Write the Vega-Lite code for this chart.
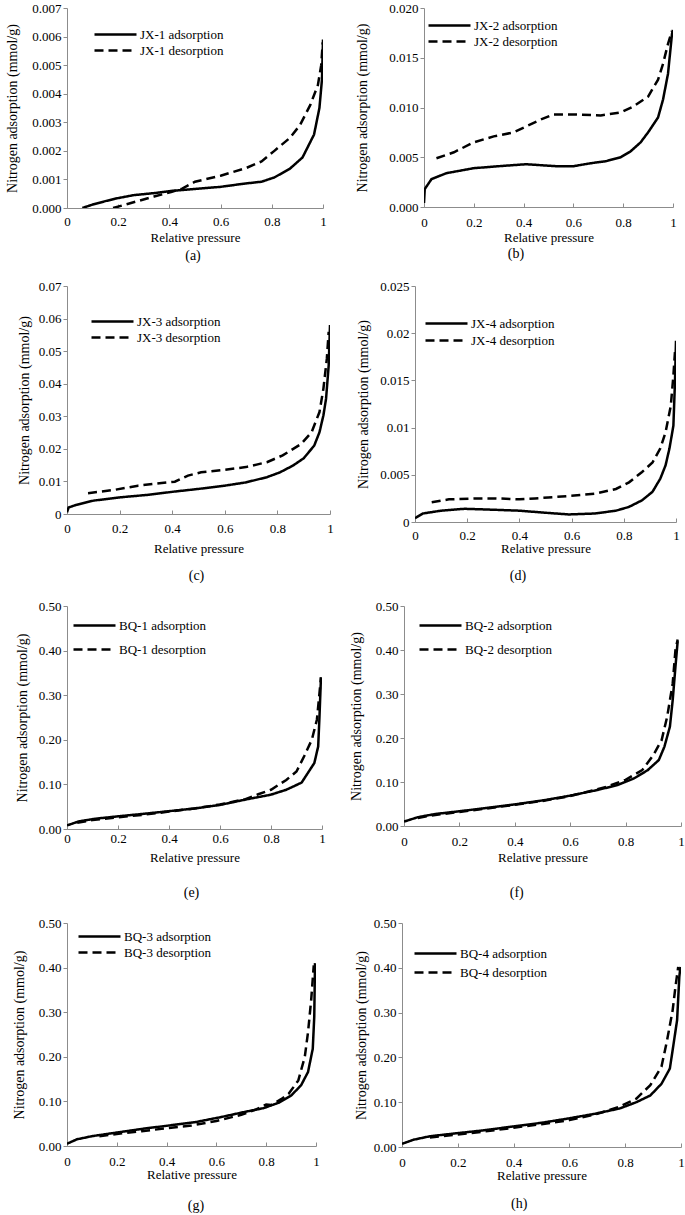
{
"$schema": "https://vega.github.io/schema/vega-lite/v6.json",
"padding": {"left": 5, "top": 2, "right": 0, "bottom": 0},
"config": {
  "font": "Liberation Serif",
  "view": {"stroke": null},
  "style": {"guide-label": {"font": "Liberation Serif", "fontSize": 13, "fill": "black"}, "guide-title": {"font": "Liberation Serif", "fontSize": 13, "fontWeight": "normal", "fill": "black"}},
  "legend": {"labelFont": "Liberation Serif", "labelFontSize": 13, "labelColor": "black", "symbolType": "M-1,0H5", "symbolStrokeWidth": 2.5, "symbolStrokeColor": "black", "symbolSize": 196, "orient": "none", "padding": 0, "labelOffset": 30, "rowPadding": 2},
  "title": {"font": "Liberation Serif", "fontSize": 14, "fontWeight": "normal", "orient": "bottom", "color": "black"},
  "line": {"strokeWidth": 2.5, "color": "black"}
},
"resolve": {"scale": {"strokeDash": "independent"}, "legend": {"strokeDash": "independent"}},
"spacing": 17,
"vconcat": [
 {"hconcat": [
  {"width": 256, "height": 200, "title": {"text": "(a)", "offset": 4.5, "frame": "group", "dx": -2},
   "data": {"name": "d"}, "transform": [{"filter": "datum.g == 'a'"}],
   "mark": {"type": "line", "clip": true},
   "encoding": {
    "x": {"field": "p", "type": "quantitative", "scale": {"domain": [0, 1], "nice": false}, "axis": {"title": "Relative pressure", "values": [0, 0.2, 0.4, 0.6, 0.8, 1], "format": "~g", "labelFont": "Liberation Serif", "labelFontSize": 13, "titleFont": "Liberation Serif", "titleFontSize": 13, "titleFontWeight": "normal", "labelColor": "black", "titleColor": "black", "domainColor": "#8c8c8c", "tickColor": "#8c8c8c", "tickSize": -4, "labelPadding": 11.5, "titlePadding": 3, "labelFlush": false, "grid": false}},
    "y": {"field": "n", "type": "quantitative", "scale": {"domain": [0, 0.007], "nice": false, "zero": false}, "axis": {"title": "Nitrogen adsorption (mmol/g)", "values": [0, 0.001, 0.002, 0.003, 0.004, 0.005, 0.006, 0.007], "format": ".3f", "labelFont": "Liberation Serif", "labelFontSize": 13, "titleFont": "Liberation Serif", "titleFontSize": 14, "titleFontWeight": "normal", "labelColor": "black", "titleColor": "black", "domainColor": "#8c8c8c", "tickColor": "#8c8c8c", "tickSize": 4, "labelPadding": 2, "titlePadding": 12, "grid": false}},
    "strokeDash": {"field": "s", "type": "nominal", "scale": {"domain": ["JX-1 adsorption", "JX-1 desorption"], "range": [[1, 0], [9, 5]]}, "legend": {"title": null, "legendX": 26, "legendY": 18, "rowPadding": -1}},
    "order": {"field": "p"}}},
  {"width": 249, "height": 199, "title": {"text": "(b)", "offset": 2.5, "frame": "bounds"},
   "data": {"name": "d"}, "transform": [{"filter": "datum.g == 'b'"}],
   "mark": {"type": "line", "clip": true},
   "encoding": {
    "x": {"field": "p", "type": "quantitative", "scale": {"domain": [0, 1], "nice": false}, "axis": {"title": "Relative pressure", "values": [0, 0.2, 0.4, 0.6, 0.8, 1], "format": "~g", "labelFont": "Liberation Serif", "labelFontSize": 13, "titleFont": "Liberation Serif", "titleFontSize": 13, "titleFontWeight": "normal", "labelColor": "black", "titleColor": "black", "domainColor": "#8c8c8c", "tickColor": "#8c8c8c", "tickSize": -4, "labelPadding": 13.5, "titlePadding": 2, "labelFlush": false, "grid": false}},
    "y": {"field": "n", "type": "quantitative", "scale": {"domain": [0, 0.02], "nice": false, "zero": false}, "axis": {"title": "Nitrogen adsorption (mmol/g)", "values": [0, 0.005, 0.01, 0.015, 0.02], "format": ".3f", "labelFont": "Liberation Serif", "labelFontSize": 13, "titleFont": "Liberation Serif", "titleFontSize": 14, "titleFontWeight": "normal", "labelColor": "black", "titleColor": "black", "domainColor": "#8c8c8c", "tickColor": "#8c8c8c", "tickSize": 4, "labelPadding": 2, "titlePadding": 19, "grid": false}},
    "strokeDash": {"field": "s", "type": "nominal", "scale": {"domain": ["JX-2 adsorption", "JX-2 desorption"], "range": [[1, 0], [9, 5]]}, "legend": {"title": null, "legendX": 3, "legendY": 9, "rowPadding": 0}},
    "order": {"field": "p"}}}
 ], "spacing": 28, "resolve": {"scale": {"strokeDash": "independent"}, "legend": {"strokeDash": "independent"}}},
 {"hconcat": [
  {"width": 263, "height": 228, "title": {"text": "(c)", "offset": 13.5, "frame": "group", "dx": -2},
   "data": {"name": "d"}, "transform": [{"filter": "datum.g == 'c'"}],
   "mark": {"type": "line", "clip": true},
   "encoding": {
    "x": {"field": "p", "type": "quantitative", "scale": {"domain": [0, 1], "nice": false}, "axis": {"title": "Relative pressure", "values": [0, 0.2, 0.4, 0.6, 0.8, 1], "format": "~g", "labelFont": "Liberation Serif", "labelFontSize": 13, "titleFont": "Liberation Serif", "titleFontSize": 13, "titleFontWeight": "normal", "labelColor": "black", "titleColor": "black", "domainColor": "#8c8c8c", "tickColor": "#8c8c8c", "tickSize": -4, "labelPadding": 12.5, "titlePadding": 7, "labelFlush": false, "grid": false}},
    "y": {"field": "n", "type": "quantitative", "scale": {"domain": [0, 0.07], "nice": false, "zero": false}, "axis": {"title": "Nitrogen adsorption (mmol/g)", "values": [0, 0.01, 0.02, 0.03, 0.04, 0.05, 0.06, 0.07], "format": "~g", "labelFont": "Liberation Serif", "labelFontSize": 13, "titleFont": "Liberation Serif", "titleFontSize": 14, "titleFontWeight": "normal", "labelColor": "black", "titleColor": "black", "domainColor": "#8c8c8c", "tickColor": "#8c8c8c", "tickSize": 4, "labelPadding": 2, "titlePadding": 7, "grid": false}},
    "strokeDash": {"field": "s", "type": "nominal", "scale": {"domain": ["JX-3 adsorption", "JX-3 desorption"], "range": [[1, 0], [9, 5]]}, "legend": {"title": null, "legendX": 23, "legendY": 27, "rowPadding": -2}},
    "order": {"field": "p"}}},
  {"width": 261, "height": 236, "title": {"text": "(d)", "offset": 13.5, "frame": "bounds"},
   "data": {"name": "d"}, "transform": [{"filter": "datum.g == 'd'"}],
   "mark": {"type": "line", "clip": true},
   "encoding": {
    "x": {"field": "p", "type": "quantitative", "scale": {"domain": [0, 1], "nice": false}, "axis": {"title": "Relative pressure", "values": [0, 0.2, 0.4, 0.6, 0.8, 1], "format": "~g", "labelFont": "Liberation Serif", "labelFontSize": 13, "titleFont": "Liberation Serif", "titleFontSize": 13, "titleFontWeight": "normal", "labelColor": "black", "titleColor": "black", "domainColor": "#8c8c8c", "tickColor": "#8c8c8c", "tickSize": -4, "labelPadding": 11.5, "titlePadding": 0, "labelFlush": false, "grid": false}},
    "y": {"field": "n", "type": "quantitative", "scale": {"domain": [0, 0.025], "nice": false, "zero": false}, "axis": {"title": "Nitrogen adsorption (mmol/g)", "values": [0, 0.005, 0.01, 0.015, 0.02, 0.025], "format": "~g", "labelFont": "Liberation Serif", "labelFontSize": 13, "titleFont": "Liberation Serif", "titleFontSize": 14, "titleFontWeight": "normal", "labelColor": "black", "titleColor": "black", "domainColor": "#8c8c8c", "tickColor": "#8c8c8c", "tickSize": 4, "labelPadding": 2, "titlePadding": 9, "grid": false}},
    "strokeDash": {"field": "s", "type": "nominal", "scale": {"domain": ["JX-4 adsorption", "JX-4 desorption"], "range": [[1, 0], [9, 5]]}, "legend": {"title": null, "legendX": 9, "legendY": 29, "rowPadding": 1}},
    "order": {"field": "p"}}}
 ], "spacing": 22, "resolve": {"scale": {"strokeDash": "independent"}, "legend": {"strokeDash": "independent"}}},
 {"hconcat": [
  {"width": 255, "height": 223, "title": {"text": "(e)", "offset": 21.5, "frame": "group", "dx": -3},
   "data": {"name": "d"}, "transform": [{"filter": "datum.g == 'e'"}],
   "mark": {"type": "line", "clip": true},
   "encoding": {
    "x": {"field": "p", "type": "quantitative", "scale": {"domain": [0, 1], "nice": false}, "axis": {"title": "Relative pressure", "values": [0, 0.2, 0.4, 0.6, 0.8, 1], "format": "~g", "labelFont": "Liberation Serif", "labelFontSize": 13, "titleFont": "Liberation Serif", "titleFontSize": 13, "titleFontWeight": "normal", "labelColor": "black", "titleColor": "black", "domainColor": "#8c8c8c", "tickColor": "#8c8c8c", "tickSize": -4, "labelPadding": 7.5, "titlePadding": 6, "labelFlush": false, "grid": false}},
    "y": {"field": "n", "type": "quantitative", "scale": {"domain": [0, 0.5], "nice": false, "zero": false}, "axis": {"title": "Nitrogen adsorption (mmol/g)", "values": [0, 0.1, 0.2, 0.3, 0.4, 0.5], "format": ".2f", "labelFont": "Liberation Serif", "labelFontSize": 13, "titleFont": "Liberation Serif", "titleFontSize": 14, "titleFontWeight": "normal", "labelColor": "black", "titleColor": "black", "domainColor": "#8c8c8c", "tickColor": "#8c8c8c", "tickSize": 4, "labelPadding": 2, "titlePadding": 9, "grid": false}},
    "strokeDash": {"field": "s", "type": "nominal", "scale": {"domain": ["BQ-1 adsorption", "BQ-1 desorption"], "range": [[1, 0], [9, 5]]}, "legend": {"title": null, "legendX": 5, "legendY": 11, "rowPadding": 8}},
    "order": {"field": "p"}}},
  {"width": 277, "height": 220, "title": {"text": "(f)", "offset": 21.5, "frame": "bounds"},
   "data": {"name": "d"}, "transform": [{"filter": "datum.g == 'f'"}],
   "mark": {"type": "line", "clip": true},
   "encoding": {
    "x": {"field": "p", "type": "quantitative", "scale": {"domain": [0, 1], "nice": false}, "axis": {"title": "Relative pressure", "values": [0, 0.2, 0.4, 0.6, 0.8, 1], "format": "~g", "labelFont": "Liberation Serif", "labelFontSize": 13, "titleFont": "Liberation Serif", "titleFontSize": 13, "titleFontWeight": "normal", "labelColor": "black", "titleColor": "black", "domainColor": "#8c8c8c", "tickColor": "#8c8c8c", "tickSize": -4, "labelPadding": 13.5, "titlePadding": 3, "labelFlush": false, "grid": false}},
    "y": {"field": "n", "type": "quantitative", "scale": {"domain": [0, 0.5], "nice": false, "zero": false}, "axis": {"title": "Nitrogen adsorption (mmol/g)", "values": [0, 0.1, 0.2, 0.3, 0.4, 0.5], "format": ".2f", "labelFont": "Liberation Serif", "labelFontSize": 13, "titleFont": "Liberation Serif", "titleFontSize": 14, "titleFontWeight": "normal", "labelColor": "black", "titleColor": "black", "domainColor": "#8c8c8c", "tickColor": "#8c8c8c", "tickSize": 4, "labelPadding": 2, "titlePadding": 12, "grid": false}},
    "strokeDash": {"field": "s", "type": "nominal", "scale": {"domain": ["BQ-2 adsorption", "BQ-2 desorption"], "range": [[1, 0], [9, 5]]}, "legend": {"title": null, "legendX": 14, "legendY": 11, "rowPadding": 8}},
    "order": {"field": "p"}}}
 ], "spacing": 23, "resolve": {"scale": {"strokeDash": "independent"}, "legend": {"strokeDash": "independent"}}},
 {"hconcat": [
  {"width": 249, "height": 223, "title": {"text": "(g)", "offset": 17.5, "frame": "group", "dx": 4.5},
   "data": {"name": "d"}, "transform": [{"filter": "datum.g == 'g'"}],
   "mark": {"type": "line", "clip": true},
   "encoding": {
    "x": {"field": "p", "type": "quantitative", "scale": {"domain": [0, 1], "nice": false}, "axis": {"title": "Relative pressure", "values": [0, 0.2, 0.4, 0.6, 0.8, 1], "format": "~g", "labelFont": "Liberation Serif", "labelFontSize": 13, "titleFont": "Liberation Serif", "titleFontSize": 13, "titleFontWeight": "normal", "labelColor": "black", "titleColor": "black", "domainColor": "#8c8c8c", "tickColor": "#8c8c8c", "tickSize": -4, "labelPadding": 13.5, "titlePadding": 0, "labelFlush": false, "grid": false}},
    "y": {"field": "n", "type": "quantitative", "scale": {"domain": [0, 0.5], "nice": false, "zero": false}, "axis": {"title": "Nitrogen adsorption (mmol/g)", "values": [0, 0.1, 0.2, 0.3, 0.4, 0.5], "format": ".2f", "labelFont": "Liberation Serif", "labelFontSize": 13, "titleFont": "Liberation Serif", "titleFontSize": 14, "titleFontWeight": "normal", "labelColor": "black", "titleColor": "black", "domainColor": "#8c8c8c", "tickColor": "#8c8c8c", "tickSize": 4, "labelPadding": 2, "titlePadding": 12, "grid": false}},
    "strokeDash": {"field": "s", "type": "nominal", "scale": {"domain": ["BQ-3 adsorption", "BQ-3 desorption"], "range": [[1, 0], [9, 5]]}, "legend": {"title": null, "legendX": 10, "legendY": 5, "rowPadding": 0}},
    "order": {"field": "p"}}},
  {"width": 279, "height": 224, "title": {"text": "(h)", "offset": 14.5, "frame": "bounds"},
   "data": {"name": "d"}, "transform": [{"filter": "datum.g == 'h'"}],
   "mark": {"type": "line", "clip": true},
   "encoding": {
    "x": {"field": "p", "type": "quantitative", "scale": {"domain": [0, 1], "nice": false}, "axis": {"title": "Relative pressure", "values": [0, 0.2, 0.4, 0.6, 0.8, 1], "format": "~g", "labelFont": "Liberation Serif", "labelFontSize": 13, "titleFont": "Liberation Serif", "titleFontSize": 13, "titleFontWeight": "normal", "labelColor": "black", "titleColor": "black", "domainColor": "#8c8c8c", "tickColor": "#8c8c8c", "tickSize": -4, "labelPadding": 13.5, "titlePadding": 0, "labelFlush": false, "grid": false}},
    "y": {"field": "n", "type": "quantitative", "scale": {"domain": [0, 0.5], "nice": false, "zero": false}, "axis": {"title": "Nitrogen adsorption (mmol/g)", "values": [0, 0.1, 0.2, 0.3, 0.4, 0.5], "format": ".2f", "labelFont": "Liberation Serif", "labelFontSize": 13, "titleFont": "Liberation Serif", "titleFontSize": 14, "titleFontWeight": "normal", "labelColor": "black", "titleColor": "black", "domainColor": "#8c8c8c", "tickColor": "#8c8c8c", "tickSize": 4, "labelPadding": 2, "titlePadding": 5, "grid": false}},
    "strokeDash": {"field": "s", "type": "nominal", "scale": {"domain": ["BQ-4 adsorption", "BQ-4 desorption"], "range": [[1, 0], [9, 5]]}, "legend": {"title": null, "legendX": 11, "legendY": 22, "rowPadding": 3}},
    "order": {"field": "p"}}}
 ], "spacing": 34, "resolve": {"scale": {"strokeDash": "independent"}, "legend": {"strokeDash": "independent"}}}
],
"datasets": {"d": [
{"g":"a","s":"JX-1 adsorption","p":0.06,"n":0},{"g":"a","s":"JX-1 adsorption","p":0.1,"n":0.00012},{"g":"a","s":"JX-1 adsorption","p":0.15,"n":0.00024},{"g":"a","s":"JX-1 adsorption","p":0.19,"n":0.00033},{"g":"a","s":"JX-1 adsorption","p":0.26,"n":0.00045},{"g":"a","s":"JX-1 adsorption","p":0.35,"n":0.00053},{"g":"a","s":"JX-1 adsorption","p":0.41,"n":0.0006},{"g":"a","s":"JX-1 adsorption","p":0.49,"n":0.00066},{"g":"a","s":"JX-1 adsorption","p":0.6,"n":0.00074},{"g":"a","s":"JX-1 adsorption","p":0.69,"n":0.00085},{"g":"a","s":"JX-1 adsorption","p":0.76,"n":0.00092},{"g":"a","s":"JX-1 adsorption","p":0.81,"n":0.00107},{"g":"a","s":"JX-1 adsorption","p":0.87,"n":0.00137},{"g":"a","s":"JX-1 adsorption","p":0.92,"n":0.00177},{"g":"a","s":"JX-1 adsorption","p":0.965,"n":0.00257},{"g":"a","s":"JX-1 adsorption","p":0.986,"n":0.0035},{"g":"a","s":"JX-1 adsorption","p":0.996,"n":0.0045},{"g":"a","s":"JX-1 adsorption","p":1.0,"n":0.0059},
{"g":"a","s":"JX-1 desorption","p":0.18,"n":0},{"g":"a","s":"JX-1 desorption","p":0.24,"n":0.00015},{"g":"a","s":"JX-1 desorption","p":0.34,"n":0.0004},{"g":"a","s":"JX-1 desorption","p":0.41,"n":0.00057},{"g":"a","s":"JX-1 desorption","p":0.45,"n":0.00068},{"g":"a","s":"JX-1 desorption","p":0.5,"n":0.00092},{"g":"a","s":"JX-1 desorption","p":0.6,"n":0.00113},{"g":"a","s":"JX-1 desorption","p":0.7,"n":0.0014},{"g":"a","s":"JX-1 desorption","p":0.76,"n":0.00163},{"g":"a","s":"JX-1 desorption","p":0.81,"n":0.002},{"g":"a","s":"JX-1 desorption","p":0.87,"n":0.00245},{"g":"a","s":"JX-1 desorption","p":0.91,"n":0.0029},{"g":"a","s":"JX-1 desorption","p":0.95,"n":0.0036},{"g":"a","s":"JX-1 desorption","p":0.98,"n":0.0043},{"g":"a","s":"JX-1 desorption","p":0.993,"n":0.005},{"g":"a","s":"JX-1 desorption","p":0.999,"n":0.0058},
{"g":"b","s":"JX-2 adsorption","p":0.0,"n":0.0004},{"g":"b","s":"JX-2 adsorption","p":0.003,"n":0.0018},{"g":"b","s":"JX-2 adsorption","p":0.03,"n":0.0028},{"g":"b","s":"JX-2 adsorption","p":0.09,"n":0.0034},{"g":"b","s":"JX-2 adsorption","p":0.2,"n":0.0039},{"g":"b","s":"JX-2 adsorption","p":0.3,"n":0.0041},{"g":"b","s":"JX-2 adsorption","p":0.41,"n":0.0043},{"g":"b","s":"JX-2 adsorption","p":0.47,"n":0.0042},{"g":"b","s":"JX-2 adsorption","p":0.53,"n":0.0041},{"g":"b","s":"JX-2 adsorption","p":0.6,"n":0.0041},{"g":"b","s":"JX-2 adsorption","p":0.67,"n":0.0044},{"g":"b","s":"JX-2 adsorption","p":0.73,"n":0.0046},{"g":"b","s":"JX-2 adsorption","p":0.79,"n":0.005},{"g":"b","s":"JX-2 adsorption","p":0.83,"n":0.0056},{"g":"b","s":"JX-2 adsorption","p":0.87,"n":0.0065},{"g":"b","s":"JX-2 adsorption","p":0.9,"n":0.0075},{"g":"b","s":"JX-2 adsorption","p":0.94,"n":0.009},{"g":"b","s":"JX-2 adsorption","p":0.96,"n":0.0108},{"g":"b","s":"JX-2 adsorption","p":0.98,"n":0.0134},{"g":"b","s":"JX-2 adsorption","p":0.996,"n":0.0174},{"g":"b","s":"JX-2 adsorption","p":1.0,"n":0.0178},
{"g":"b","s":"JX-2 desorption","p":0.05,"n":0.0049},{"g":"b","s":"JX-2 desorption","p":0.12,"n":0.0055},{"g":"b","s":"JX-2 desorption","p":0.2,"n":0.0065},{"g":"b","s":"JX-2 desorption","p":0.28,"n":0.0071},{"g":"b","s":"JX-2 desorption","p":0.36,"n":0.0075},{"g":"b","s":"JX-2 desorption","p":0.41,"n":0.0081},{"g":"b","s":"JX-2 desorption","p":0.47,"n":0.0088},{"g":"b","s":"JX-2 desorption","p":0.52,"n":0.0093},{"g":"b","s":"JX-2 desorption","p":0.6,"n":0.0093},{"g":"b","s":"JX-2 desorption","p":0.71,"n":0.0092},{"g":"b","s":"JX-2 desorption","p":0.79,"n":0.0095},{"g":"b","s":"JX-2 desorption","p":0.84,"n":0.0101},{"g":"b","s":"JX-2 desorption","p":0.9,"n":0.0111},{"g":"b","s":"JX-2 desorption","p":0.94,"n":0.0128},{"g":"b","s":"JX-2 desorption","p":0.96,"n":0.0144},{"g":"b","s":"JX-2 desorption","p":0.98,"n":0.0164},{"g":"b","s":"JX-2 desorption","p":0.996,"n":0.0177},
{"g":"c","s":"JX-3 adsorption","p":0,"n":0.0005},{"g":"c","s":"JX-3 adsorption","p":0.006,"n":0.002},{"g":"c","s":"JX-3 adsorption","p":0.035,"n":0.0028},{"g":"c","s":"JX-3 adsorption","p":0.1,"n":0.0041},{"g":"c","s":"JX-3 adsorption","p":0.2,"n":0.0051},{"g":"c","s":"JX-3 adsorption","p":0.31,"n":0.0059},{"g":"c","s":"JX-3 adsorption","p":0.41,"n":0.0069},{"g":"c","s":"JX-3 adsorption","p":0.5,"n":0.0077},{"g":"c","s":"JX-3 adsorption","p":0.6,"n":0.0087},{"g":"c","s":"JX-3 adsorption","p":0.68,"n":0.0097},{"g":"c","s":"JX-3 adsorption","p":0.76,"n":0.0113},{"g":"c","s":"JX-3 adsorption","p":0.81,"n":0.0128},{"g":"c","s":"JX-3 adsorption","p":0.86,"n":0.0149},{"g":"c","s":"JX-3 adsorption","p":0.9,"n":0.0171},{"g":"c","s":"JX-3 adsorption","p":0.94,"n":0.021},{"g":"c","s":"JX-3 adsorption","p":0.96,"n":0.0251},{"g":"c","s":"JX-3 adsorption","p":0.975,"n":0.0303},{"g":"c","s":"JX-3 adsorption","p":0.985,"n":0.0354},{"g":"c","s":"JX-3 adsorption","p":0.995,"n":0.0456},{"g":"c","s":"JX-3 adsorption","p":1.0,"n":0.058},
{"g":"c","s":"JX-3 desorption","p":0.08,"n":0.0064},{"g":"c","s":"JX-3 desorption","p":0.18,"n":0.0074},{"g":"c","s":"JX-3 desorption","p":0.27,"n":0.0087},{"g":"c","s":"JX-3 desorption","p":0.36,"n":0.0095},{"g":"c","s":"JX-3 desorption","p":0.41,"n":0.0099},{"g":"c","s":"JX-3 desorption","p":0.46,"n":0.0118},{"g":"c","s":"JX-3 desorption","p":0.51,"n":0.0128},{"g":"c","s":"JX-3 desorption","p":0.6,"n":0.0136},{"g":"c","s":"JX-3 desorption","p":0.68,"n":0.0144},{"g":"c","s":"JX-3 desorption","p":0.76,"n":0.0159},{"g":"c","s":"JX-3 desorption","p":0.82,"n":0.018},{"g":"c","s":"JX-3 desorption","p":0.89,"n":0.0215},{"g":"c","s":"JX-3 desorption","p":0.93,"n":0.0251},{"g":"c","s":"JX-3 desorption","p":0.96,"n":0.0313},{"g":"c","s":"JX-3 desorption","p":0.975,"n":0.0385},{"g":"c","s":"JX-3 desorption","p":0.988,"n":0.0477},{"g":"c","s":"JX-3 desorption","p":0.995,"n":0.0559},
{"g":"d","s":"JX-4 adsorption","p":0,"n":0.0004},{"g":"d","s":"JX-4 adsorption","p":0.03,"n":0.0009},{"g":"d","s":"JX-4 adsorption","p":0.1,"n":0.0012},{"g":"d","s":"JX-4 adsorption","p":0.19,"n":0.0014},{"g":"d","s":"JX-4 adsorption","p":0.3,"n":0.0013},{"g":"d","s":"JX-4 adsorption","p":0.4,"n":0.0012},{"g":"d","s":"JX-4 adsorption","p":0.49,"n":0.001},{"g":"d","s":"JX-4 adsorption","p":0.59,"n":0.0008},{"g":"d","s":"JX-4 adsorption","p":0.69,"n":0.0009},{"g":"d","s":"JX-4 adsorption","p":0.77,"n":0.0012},{"g":"d","s":"JX-4 adsorption","p":0.82,"n":0.0016},{"g":"d","s":"JX-4 adsorption","p":0.87,"n":0.0023},{"g":"d","s":"JX-4 adsorption","p":0.91,"n":0.0032},{"g":"d","s":"JX-4 adsorption","p":0.94,"n":0.0046},{"g":"d","s":"JX-4 adsorption","p":0.96,"n":0.006},{"g":"d","s":"JX-4 adsorption","p":0.975,"n":0.0078},{"g":"d","s":"JX-4 adsorption","p":0.99,"n":0.0102},{"g":"d","s":"JX-4 adsorption","p":0.996,"n":0.0148},{"g":"d","s":"JX-4 adsorption","p":1.0,"n":0.0192},
{"g":"d","s":"JX-4 desorption","p":0.064,"n":0.0021},{"g":"d","s":"JX-4 desorption","p":0.13,"n":0.0024},{"g":"d","s":"JX-4 desorption","p":0.23,"n":0.0025},{"g":"d","s":"JX-4 desorption","p":0.31,"n":0.0025},{"g":"d","s":"JX-4 desorption","p":0.4,"n":0.0024},{"g":"d","s":"JX-4 desorption","p":0.46,"n":0.0025},{"g":"d","s":"JX-4 desorption","p":0.51,"n":0.0026},{"g":"d","s":"JX-4 desorption","p":0.61,"n":0.0028},{"g":"d","s":"JX-4 desorption","p":0.69,"n":0.003},{"g":"d","s":"JX-4 desorption","p":0.77,"n":0.0035},{"g":"d","s":"JX-4 desorption","p":0.82,"n":0.0042},{"g":"d","s":"JX-4 desorption","p":0.87,"n":0.0053},{"g":"d","s":"JX-4 desorption","p":0.91,"n":0.0063},{"g":"d","s":"JX-4 desorption","p":0.94,"n":0.0078},{"g":"d","s":"JX-4 desorption","p":0.96,"n":0.0095},{"g":"d","s":"JX-4 desorption","p":0.98,"n":0.0123},{"g":"d","s":"JX-4 desorption","p":0.99,"n":0.0155},{"g":"d","s":"JX-4 desorption","p":0.996,"n":0.018},
{"g":"e","s":"BQ-1 adsorption","p":0,"n":0.008},{"g":"e","s":"BQ-1 adsorption","p":0.046,"n":0.017},{"g":"e","s":"BQ-1 adsorption","p":0.11,"n":0.023},{"g":"e","s":"BQ-1 adsorption","p":0.21,"n":0.029},{"g":"e","s":"BQ-1 adsorption","p":0.3,"n":0.034},{"g":"e","s":"BQ-1 adsorption","p":0.4,"n":0.04},{"g":"e","s":"BQ-1 adsorption","p":0.5,"n":0.046},{"g":"e","s":"BQ-1 adsorption","p":0.6,"n":0.054},{"g":"e","s":"BQ-1 adsorption","p":0.7,"n":0.066},{"g":"e","s":"BQ-1 adsorption","p":0.8,"n":0.077},{"g":"e","s":"BQ-1 adsorption","p":0.86,"n":0.088},{"g":"e","s":"BQ-1 adsorption","p":0.92,"n":0.104},{"g":"e","s":"BQ-1 adsorption","p":0.97,"n":0.148},{"g":"e","s":"BQ-1 adsorption","p":0.985,"n":0.185},{"g":"e","s":"BQ-1 adsorption","p":0.99,"n":0.25},{"g":"e","s":"BQ-1 adsorption","p":0.996,"n":0.34},
{"g":"e","s":"BQ-1 desorption","p":0.04,"n":0.014},{"g":"e","s":"BQ-1 desorption","p":0.1,"n":0.02},{"g":"e","s":"BQ-1 desorption","p":0.2,"n":0.026},{"g":"e","s":"BQ-1 desorption","p":0.3,"n":0.032},{"g":"e","s":"BQ-1 desorption","p":0.4,"n":0.039},{"g":"e","s":"BQ-1 desorption","p":0.5,"n":0.046},{"g":"e","s":"BQ-1 desorption","p":0.6,"n":0.055},{"g":"e","s":"BQ-1 desorption","p":0.7,"n":0.067},{"g":"e","s":"BQ-1 desorption","p":0.75,"n":0.078},{"g":"e","s":"BQ-1 desorption","p":0.8,"n":0.088},{"g":"e","s":"BQ-1 desorption","p":0.86,"n":0.11},{"g":"e","s":"BQ-1 desorption","p":0.9,"n":0.129},{"g":"e","s":"BQ-1 desorption","p":0.93,"n":0.163},{"g":"e","s":"BQ-1 desorption","p":0.96,"n":0.2},{"g":"e","s":"BQ-1 desorption","p":0.98,"n":0.245},{"g":"e","s":"BQ-1 desorption","p":0.99,"n":0.304},{"g":"e","s":"BQ-1 desorption","p":0.996,"n":0.34},
{"g":"f","s":"BQ-2 adsorption","p":0,"n":0.01},{"g":"f","s":"BQ-2 adsorption","p":0.05,"n":0.02},{"g":"f","s":"BQ-2 adsorption","p":0.11,"n":0.027},{"g":"f","s":"BQ-2 adsorption","p":0.22,"n":0.035},{"g":"f","s":"BQ-2 adsorption","p":0.31,"n":0.042},{"g":"f","s":"BQ-2 adsorption","p":0.41,"n":0.05},{"g":"f","s":"BQ-2 adsorption","p":0.51,"n":0.059},{"g":"f","s":"BQ-2 adsorption","p":0.6,"n":0.069},{"g":"f","s":"BQ-2 adsorption","p":0.7,"n":0.082},{"g":"f","s":"BQ-2 adsorption","p":0.77,"n":0.093},{"g":"f","s":"BQ-2 adsorption","p":0.83,"n":0.108},{"g":"f","s":"BQ-2 adsorption","p":0.88,"n":0.127},{"g":"f","s":"BQ-2 adsorption","p":0.92,"n":0.15},{"g":"f","s":"BQ-2 adsorption","p":0.94,"n":0.18},{"g":"f","s":"BQ-2 adsorption","p":0.96,"n":0.226},{"g":"f","s":"BQ-2 adsorption","p":0.97,"n":0.286},{"g":"f","s":"BQ-2 adsorption","p":0.98,"n":0.362},{"g":"f","s":"BQ-2 adsorption","p":0.988,"n":0.42},
{"g":"f","s":"BQ-2 desorption","p":0.05,"n":0.018},{"g":"f","s":"BQ-2 desorption","p":0.1,"n":0.024},{"g":"f","s":"BQ-2 desorption","p":0.2,"n":0.032},{"g":"f","s":"BQ-2 desorption","p":0.3,"n":0.04},{"g":"f","s":"BQ-2 desorption","p":0.4,"n":0.048},{"g":"f","s":"BQ-2 desorption","p":0.5,"n":0.057},{"g":"f","s":"BQ-2 desorption","p":0.6,"n":0.068},{"g":"f","s":"BQ-2 desorption","p":0.73,"n":0.089},{"g":"f","s":"BQ-2 desorption","p":0.8,"n":0.105},{"g":"f","s":"BQ-2 desorption","p":0.86,"n":0.127},{"g":"f","s":"BQ-2 desorption","p":0.9,"n":0.161},{"g":"f","s":"BQ-2 desorption","p":0.93,"n":0.195},{"g":"f","s":"BQ-2 desorption","p":0.95,"n":0.248},{"g":"f","s":"BQ-2 desorption","p":0.97,"n":0.324},{"g":"f","s":"BQ-2 desorption","p":0.98,"n":0.4},{"g":"f","s":"BQ-2 desorption","p":0.988,"n":0.424},
{"g":"g","s":"BQ-3 adsorption","p":0,"n":0.005},{"g":"g","s":"BQ-3 adsorption","p":0.04,"n":0.015},{"g":"g","s":"BQ-3 adsorption","p":0.1,"n":0.022},{"g":"g","s":"BQ-3 adsorption","p":0.21,"n":0.031},{"g":"g","s":"BQ-3 adsorption","p":0.31,"n":0.039},{"g":"g","s":"BQ-3 adsorption","p":0.41,"n":0.046},{"g":"g","s":"BQ-3 adsorption","p":0.52,"n":0.054},{"g":"g","s":"BQ-3 adsorption","p":0.62,"n":0.065},{"g":"g","s":"BQ-3 adsorption","p":0.71,"n":0.076},{"g":"g","s":"BQ-3 adsorption","p":0.79,"n":0.085},{"g":"g","s":"BQ-3 adsorption","p":0.85,"n":0.097},{"g":"g","s":"BQ-3 adsorption","p":0.9,"n":0.113},{"g":"g","s":"BQ-3 adsorption","p":0.94,"n":0.136},{"g":"g","s":"BQ-3 adsorption","p":0.968,"n":0.166},{"g":"g","s":"BQ-3 adsorption","p":0.987,"n":0.218},{"g":"g","s":"BQ-3 adsorption","p":0.993,"n":0.29},{"g":"g","s":"BQ-3 adsorption","p":0.996,"n":0.41},
{"g":"g","s":"BQ-3 desorption","p":0.13,"n":0.022},{"g":"g","s":"BQ-3 desorption","p":0.2,"n":0.027},{"g":"g","s":"BQ-3 desorption","p":0.3,"n":0.033},{"g":"g","s":"BQ-3 desorption","p":0.4,"n":0.04},{"g":"g","s":"BQ-3 desorption","p":0.5,"n":0.046},{"g":"g","s":"BQ-3 desorption","p":0.6,"n":0.056},{"g":"g","s":"BQ-3 desorption","p":0.7,"n":0.07},{"g":"g","s":"BQ-3 desorption","p":0.76,"n":0.082},{"g":"g","s":"BQ-3 desorption","p":0.8,"n":0.093},{"g":"g","s":"BQ-3 desorption","p":0.82,"n":0.092},{"g":"g","s":"BQ-3 desorption","p":0.86,"n":0.105},{"g":"g","s":"BQ-3 desorption","p":0.89,"n":0.117},{"g":"g","s":"BQ-3 desorption","p":0.929,"n":0.147},{"g":"g","s":"BQ-3 desorption","p":0.955,"n":0.2},{"g":"g","s":"BQ-3 desorption","p":0.968,"n":0.255},{"g":"g","s":"BQ-3 desorption","p":0.981,"n":0.33},{"g":"g","s":"BQ-3 desorption","p":0.991,"n":0.405},
{"g":"h","s":"BQ-4 adsorption","p":0,"n":0.007},{"g":"h","s":"BQ-4 adsorption","p":0.04,"n":0.016},{"g":"h","s":"BQ-4 adsorption","p":0.1,"n":0.024},{"g":"h","s":"BQ-4 adsorption","p":0.2,"n":0.031},{"g":"h","s":"BQ-4 adsorption","p":0.29,"n":0.037},{"g":"h","s":"BQ-4 adsorption","p":0.4,"n":0.046},{"g":"h","s":"BQ-4 adsorption","p":0.5,"n":0.054},{"g":"h","s":"BQ-4 adsorption","p":0.59,"n":0.063},{"g":"h","s":"BQ-4 adsorption","p":0.69,"n":0.074},{"g":"h","s":"BQ-4 adsorption","p":0.78,"n":0.086},{"g":"h","s":"BQ-4 adsorption","p":0.84,"n":0.1},{"g":"h","s":"BQ-4 adsorption","p":0.89,"n":0.115},{"g":"h","s":"BQ-4 adsorption","p":0.93,"n":0.141},{"g":"h","s":"BQ-4 adsorption","p":0.96,"n":0.175},{"g":"h","s":"BQ-4 adsorption","p":0.97,"n":0.216},{"g":"h","s":"BQ-4 adsorption","p":0.986,"n":0.283},{"g":"h","s":"BQ-4 adsorption","p":0.994,"n":0.38},{"g":"h","s":"BQ-4 adsorption","p":0.998,"n":0.402},
{"g":"h","s":"BQ-4 desorption","p":0.1,"n":0.021},{"g":"h","s":"BQ-4 desorption","p":0.2,"n":0.028},{"g":"h","s":"BQ-4 desorption","p":0.3,"n":0.035},{"g":"h","s":"BQ-4 desorption","p":0.4,"n":0.043},{"g":"h","s":"BQ-4 desorption","p":0.5,"n":0.051},{"g":"h","s":"BQ-4 desorption","p":0.6,"n":0.06},{"g":"h","s":"BQ-4 desorption","p":0.7,"n":0.074},{"g":"h","s":"BQ-4 desorption","p":0.78,"n":0.09},{"g":"h","s":"BQ-4 desorption","p":0.84,"n":0.108},{"g":"h","s":"BQ-4 desorption","p":0.89,"n":0.138},{"g":"h","s":"BQ-4 desorption","p":0.93,"n":0.179},{"g":"h","s":"BQ-4 desorption","p":0.95,"n":0.238},{"g":"h","s":"BQ-4 desorption","p":0.97,"n":0.305},{"g":"h","s":"BQ-4 desorption","p":0.98,"n":0.357},{"g":"h","s":"BQ-4 desorption","p":0.99,"n":0.402}
]}
}
